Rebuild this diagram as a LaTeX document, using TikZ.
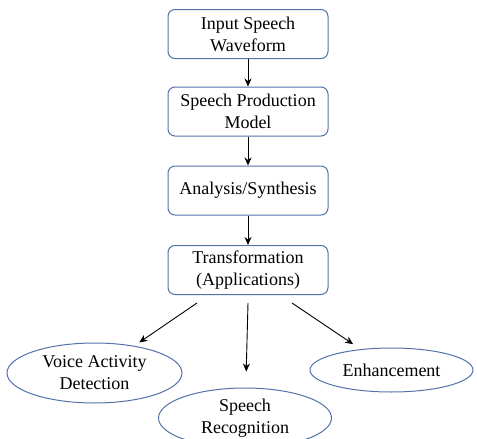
\documentclass[tikz,border=0pt]{standalone}
\usepackage{fontspec}
\setmainfont{Liberation Serif}
\usetikzlibrary{arrows.meta,shapes.geometric}
\usetikzlibrary{positioning}
\definecolor{boxline}{RGB}{84,114,170}
\tikzset{
  stage/.style={draw=boxline, line width=1pt, rounded corners=7pt, minimum width=160pt, minimum height=49pt, align=center, font=\fontsize{18}{22}\selectfont},
  app/.style={draw=boxline, line width=1pt, ellipse, align=center, inner sep=0pt, font=\fontsize{18}{22}\selectfont},
  arr/.style={-{Stealth[length=8pt,width=7pt]}, line width=0.9pt}
}

\begin{document}
\begin{tikzpicture}[x=1pt,y=-1pt]
  \useasboundingbox (0,0) rectangle (477,439);
  \node[stage] (input) at (248,34) {Input Speech\\Waveform};
  \node[stage] (model) at (248,111.5) {Speech Production\\Model};
  \node[stage] (analysis) at (248,190.5) {Analysis/Synthesis};
  \node[stage] (trans) at (248,270) {Transformation\\(Applications)};
  \node[app, minimum width=175pt, minimum height=60pt] (vad) at (94.5,373) {Voice Activity\\Detection};
  \node[app, minimum width=173pt, minimum height=60pt] (recog) at (245,418) {Speech\\Recognition};
  \node[app, minimum width=163pt, minimum height=44pt] (enh) at (391.5,370) {Enhancement};
  \coordinate (tl) at (197,303);
  \coordinate (tm) at (248,303);
  \coordinate (tr) at (292,303);
  \draw[arr] (input) -- (model);
  \draw[arr] (model) -- (analysis);
  \draw[arr] (analysis) -- (trans);
  \draw[arr, shorten >=6pt] (tl) -- (vad);
  \draw[arr, shorten >=16pt] (tm) -- (recog);
  \draw[arr, shorten >=9pt] (tr) -- (enh);
\end{tikzpicture}
\end{document}
